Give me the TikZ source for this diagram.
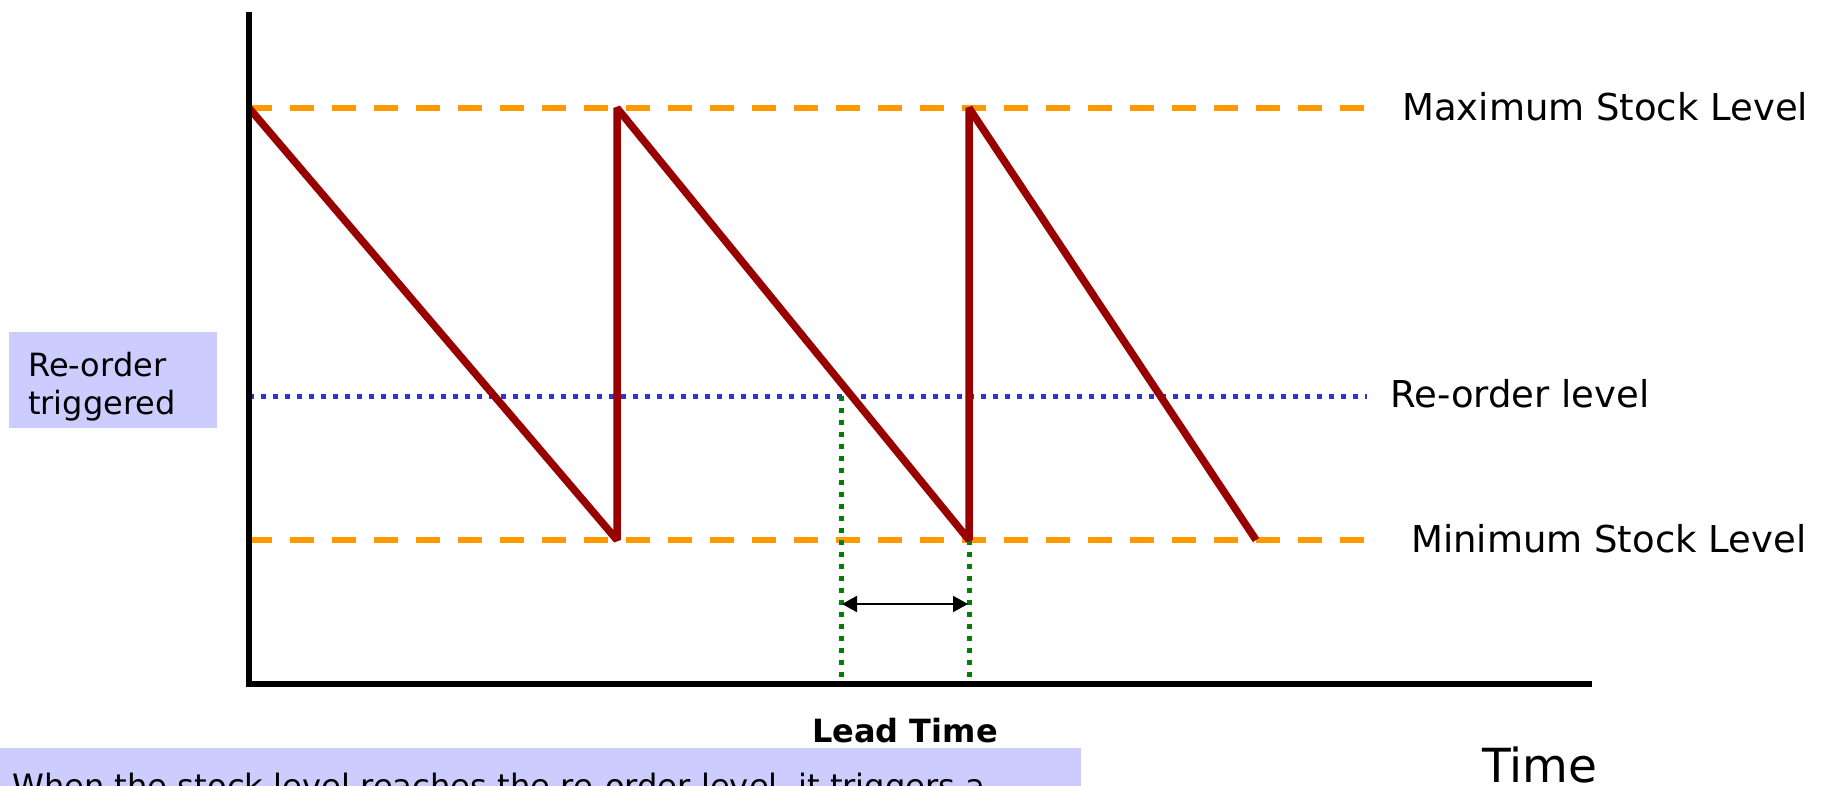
\documentclass[tikz,border=0pt]{standalone}
\usepackage{fontspec}
\setmainfont{DejaVu Sans}
\usetikzlibrary{arrows.meta}

\definecolor{stockred}{HTML}{990000}
\definecolor{levelorange}{HTML}{FF9900}
\definecolor{reorderblue}{HTML}{3333CC}
\definecolor{leadgreen}{HTML}{008000}
\definecolor{notefill}{HTML}{CCCCFF}

\begin{document}
\begin{tikzpicture}[x=1pt,y=-1pt,
  axisline/.style={line width=6pt, black, line join=miter},
  limitline/.style={line width=6pt, levelorange, dash pattern=on 24pt off 18pt},
  reorderline/.style={line width=5pt, reorderblue, dash pattern=on 5pt off 7pt},
  leadline/.style={line width=5pt, leadgreen, dash pattern=on 5pt off 7pt},
  stockline/.style={line width=7.5pt, stockred, line join=bevel},
  leadarrow/.style={line width=2pt, black,
    {Triangle[length=15pt,width=16pt]}-{Triangle[length=15pt,width=16pt]}},
  levellabel/.style={inner sep=0pt, anchor=base west, font=\fontsize{37}{44}\selectfont},
  notebox/.style={fill=notefill, draw=none, inner sep=0pt},
  notetext/.style={inner sep=0pt, anchor=base west, font=\fontsize{32}{38}\selectfont},
]
\useasboundingbox (0,0) rectangle (1835,785);
\clip (0,0) rectangle (1835,785);

% key points of the chart
\coordinate (ytop) at (249,12);
\coordinate (origin) at (249,684);
\coordinate (xend) at (1592,684);

\coordinate (maxL) at (248,108);
\coordinate (maxR) at (1365,108);
\coordinate (minL) at (248,540);
\coordinate (minR) at (1365,540);
\coordinate (roL) at (249,396);
\coordinate (roR) at (1367,396);

\coordinate (s0) at (249,108);
\coordinate (s1) at (617,540);
\coordinate (s2) at (617,108);
\coordinate (s3) at (969,540);
\coordinate (s4) at (969,108);
\coordinate (s5) at (1256,540);

\coordinate (gAtop) at (841,396);
\coordinate (gAbot) at (841,682);
\coordinate (gBtop) at (969,540);
\coordinate (gBbot) at (969,682);
\coordinate (arL) at (842,604);
\coordinate (arR) at (968,604);

% note boxes
\path[notebox] (9,332) rectangle (217,428);
\path[notebox] (0,748) rectangle (1081,800);

% stock levels
\draw[limitline] (maxL) -- (maxR);
\draw[limitline] (minL) -- (minR);
\draw[reorderline] (roL) -- (roR);

% lead time markers
\draw[leadline] (gAtop) -- (gAbot);
\draw[leadline] (gBtop) -- (gBbot);
\draw[leadarrow] (arL) -- (arR);

% stock curve
\draw[stockline] (s0) -- (s1) -- (s2) -- (s3) -- (s4) -- (s5);

% axes
\draw[axisline] (ytop) -- (origin) -- (xend);

% labels
\node[levellabel] (maxlab) at (1402,120) {Maximum Stock Level};
\node[levellabel] (rolab) at (1390,407) {Re-order level};
\node[levellabel] (minlab) at (1411,552) {Minimum Stock Level};

\node[notetext] (trig1) at (28,376) {Re-order};
\node[notetext] (trig2) at (28,414) {triggered};

\node[inner sep=0pt, anchor=base west, font=\bfseries\fontsize{32}{38}\selectfont] (leadlab) at (812,742) {Lead Time};
\node[inner sep=0pt, anchor=base west, font=\fontsize{47}{56}\selectfont] (timelab) at (1482,782) {Time};

\node[inner sep=0pt, anchor=base west, font=\fontsize{32.2}{38}\selectfont] (note) at (12,797) {When the stock level reaches the re-order level, it triggers a};
\end{tikzpicture}
\end{document}
